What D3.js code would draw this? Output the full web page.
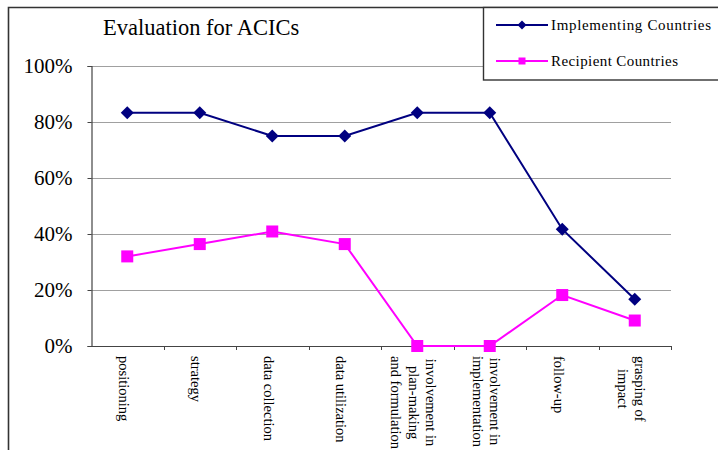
<!DOCTYPE html>
<html>
<head>
<meta charset="utf-8">
<script src="https://cdn.jsdelivr.net/npm/d3@7"></script>
<style>
  html, body { margin: 0; padding: 0; background: #fff; }
  svg { display: block; }
  text { font-family: "Liberation Serif", "Times New Roman", serif; fill: #000; }
</style>
</head>
<body>
<svg id="chart" width="718" height="450"></svg>
<script>
// Categories (each entry is the list of wrapped label lines)
const categories = [
  ["positioning"],
  ["strategy"],
  ["data collection"],
  ["data utilization"],
  ["involvement in", "plan-making", "and formulation"],
  ["involvement in", "implementation"],
  ["follow-up"],
  ["grasping of", "impact"]
];
const implementing = [0.833, 0.833, 0.75, 0.75, 0.833, 0.833, 0.417, 0.167];
const recipient    = [0.32, 0.364, 0.409, 0.364, 0, 0, 0.182, 0.091];
const yTicks = [0, 0.2, 0.4, 0.6, 0.8, 1.0];
const seriesNames = ["Implementing Countries", "Recipient Countries"];
const seriesColors = ["#000080", "#FF00FF"];

const svg = d3.select("#chart");
const plot = { left: 91, right: 671, top: 66, bottom: 346 };

const x = d3.scaleBand().domain(d3.range(categories.length))
  .range([plot.left, plot.right]).paddingInner(0).paddingOuter(0);
const y = d3.scaleLinear().domain([0, 1]).range([plot.bottom, plot.top]);

// Outer frame (left and top edges)
svg.append("path")
  .attr("d", `M8.5,450 V7.5 H718`)
  .attr("fill", "none").attr("stroke", "#333").attr("stroke-width", 1.6);

// Title
svg.append("text").attr("x", 103).attr("y", 35)
  .attr("font-size", 22.5).text("Evaluation for ACICs");

// Horizontal gridlines
svg.append("g").selectAll("line").data(yTicks.filter(d => d > 0)).join("line")
  .attr("x1", plot.left).attr("x2", plot.right)
  .attr("y1", d => Math.round(y(d)) + 0.5).attr("y2", d => Math.round(y(d)) + 0.5)
  .attr("stroke", "#a0a0a0").attr("stroke-width", 1);

// Y axis
const yAxis = d3.axisLeft(y).tickValues(yTicks).tickFormat(d3.format(".0%"))
  .tickSize(4).tickPadding(15);
const gy = svg.append("g").attr("transform", `translate(${plot.left + 0.5},0)`).call(yAxis);
gy.select(".domain").attr("stroke", "#444").attr("stroke-width", 1.2);
gy.selectAll(".tick line").attr("stroke", "#444");
gy.selectAll(".tick text").attr("font-size", 21)
  .attr("font-family", '"Liberation Serif", serif').attr("fill", "#000");

// X axis baseline and category boundary ticks
const bounds = d3.range(categories.length + 1).map(i => plot.left + i * x.bandwidth());
svg.append("line").attr("x1", plot.left).attr("x2", plot.right)
  .attr("y1", plot.bottom + 0.5).attr("y2", plot.bottom + 0.5)
  .attr("stroke", "#444").attr("stroke-width", 1.2);
svg.append("g").selectAll("line").data(bounds.slice(1)).join("line")
  .attr("x1", d => Math.round(d) + 0.5).attr("x2", d => Math.round(d) + 0.5)
  .attr("y1", plot.bottom).attr("y2", plot.bottom + 4)
  .attr("stroke", "#444");

// Rotated category labels (block starts below the axis, lines centred within block)
const lineGap = 17.5;
const labelTop = 356;
categories.forEach((lines, i) => {
  const cx = x(i) + x.bandwidth() / 2;
  const g = svg.append("g");
  const texts = lines.map((t, j) => g.append("text").attr("font-size", 14.5)
    .attr("text-anchor", "middle").text(t));
  const maxW = d3.max(texts, t => t.node().getComputedTextLength());
  const n = lines.length;
  texts.forEach((t, j) => {
    // first line sits rightmost
    const lx = cx - 4 + ((n - 1) / 2 - j) * lineGap;
    const ly = labelTop + maxW / 2;
    t.attr("transform", `translate(${lx},${ly}) rotate(90)`).attr("dy", "0.3em");
  });
});

// Lines and markers
const cx = i => x(i) + x.bandwidth() / 2;
const line = d3.line().x((d, i) => cx(i)).y(d => y(d));

function diamondPath(r) { return `M0,${-r}L${r},0L0,${r}L${-r},0Z`; }

svg.append("path").datum(implementing).attr("d", line)
  .attr("fill", "none").attr("stroke", seriesColors[0]).attr("stroke-width", 2);
svg.append("path").datum(recipient).attr("d", line)
  .attr("fill", "none").attr("stroke", seriesColors[1]).attr("stroke-width", 2);

svg.append("g").selectAll("path").data(implementing).join("path")
  .attr("transform", (d, i) => `translate(${cx(i)},${y(d)})`)
  .attr("d", diamondPath(6.5)).attr("fill", seriesColors[0]);
svg.append("g").selectAll("rect").data(recipient).join("rect")
  .attr("x", (d, i) => cx(i) - 6).attr("y", d => y(d) - 6)
  .attr("width", 12).attr("height", 12).attr("fill", seriesColors[1]);

// Legend
const lg = svg.append("g");
lg.append("rect").attr("x", 483.5).attr("y", 7.5).attr("width", 250).attr("height", 72.5)
  .attr("fill", "#fff").attr("stroke", "#333").attr("stroke-width", 1.4);
const legendRows = [25, 61];
const legendWidths = [160, 127];
seriesNames.forEach((name, i) => {
  const ly = legendRows[i];
  lg.append("line").attr("x1", 496).attr("x2", 548).attr("y1", ly).attr("y2", ly)
    .attr("stroke", seriesColors[i]).attr("stroke-width", 2);
  if (i === 0) {
    lg.append("path").attr("transform", `translate(522,${ly})`)
      .attr("d", diamondPath(4.5)).attr("fill", seriesColors[i]);
  } else {
    lg.append("rect").attr("x", 518.5).attr("y", ly - 3.5).attr("width", 7).attr("height", 7)
      .attr("fill", seriesColors[i]);
  }
  lg.append("text").attr("x", 551).attr("y", ly).attr("dy", "0.33em")
    .attr("font-size", 15).attr("textLength", legendWidths[i])
    .attr("lengthAdjust", "spacing").text(name);
});
</script>
</body>
</html>
